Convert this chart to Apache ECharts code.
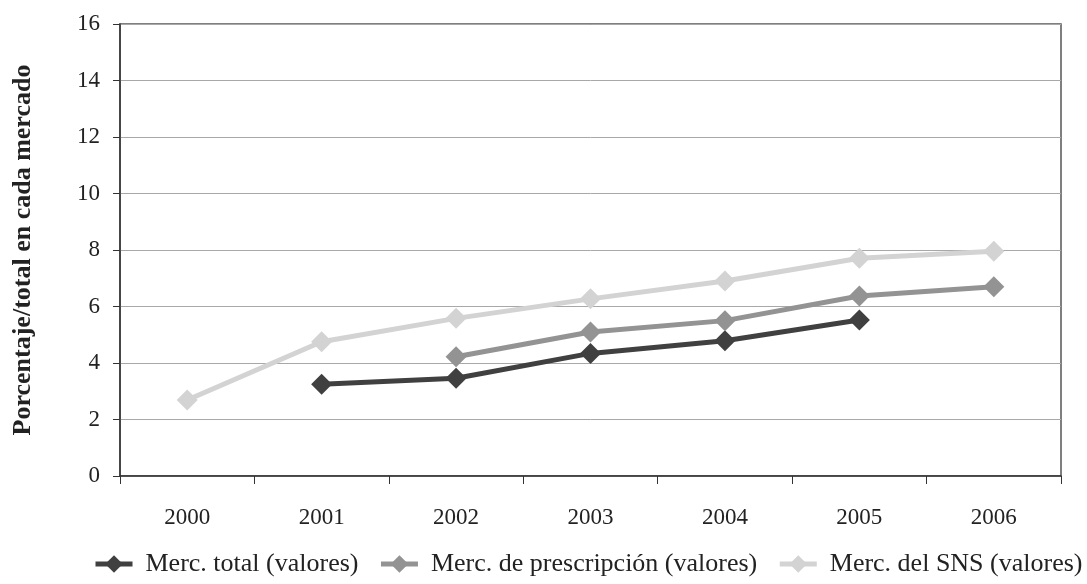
<!DOCTYPE html>
<html>
<head>
<meta charset="utf-8">
<script src="https://cdn.jsdelivr.net/npm/echarts@6/dist/echarts.min.js"></script>
<style>
  html, body { margin: 0; padding: 0; background: #fff; }
  #chart { width: 1087px; height: 584px; }
</style>
</head>
<body>
<div id="chart"></div>
<script>
// Years on the category axis
const years = ['2000', '2001', '2002', '2003', '2004', '2005', '2006'];

// Share of each market (%), null where there is no value
const mercTotal = [null, 3.25, 3.46, 4.34, 4.79, 5.52, null];
const mercPrescripcion = [null, null, 4.22, 5.1, 5.5, 6.37, 6.7];
const mercSNS = [2.69, 4.75, 5.58, 6.27, 6.9, 7.71, 7.96];

const seriesNames = [
  'Merc. total (valores)',
  'Merc. de prescripción (valores)',
  'Merc. del SNS (valores)'
];
const seriesColors = ['#404040', '#939393', '#d3d3d3'];

const font = 'Liberation Serif';

function lineSeries(name, data, color) {
  return {
    name: name,
    type: 'line',
    data: data,
    symbol: 'diamond',
    symbolSize: 21,
    connectNulls: false,
    lineStyle: { color: color, width: 5 },
    itemStyle: { color: color },
    emphasis: { disabled: true }
  };
}

const chart = echarts.init(document.getElementById('chart'), null, { renderer: 'canvas' });
chart.setOption({
  animation: false,
  backgroundColor: '#fff',
  grid: {
    left: 120, right: 26, top: 24, bottom: 108,
    show: true, borderColor: '#555', borderWidth: 1.5
  },
  legend: {
    bottom: 2,
    left: 88,
    width: 999,
    itemWidth: 37,
    itemHeight: 22,
    itemGap: 20,
    lineStyle: { width: 5 },
    textStyle: { fontFamily: font, fontSize: 26, color: '#222', padding: [0, 0, 0, 8] },
    data: seriesNames
  },
  xAxis: {
    type: 'category',
    data: years,
    boundaryGap: true,
    axisLine: { lineStyle: { color: '#333', width: 1.5 } },
    axisTick: { show: true, length: 8, lineStyle: { color: '#333' } },
    axisLabel: { fontFamily: font, fontSize: 23, color: '#222', margin: 30 },
    splitLine: { show: false }
  },
  yAxis: {
    type: 'value',
    min: 0, max: 16, interval: 2,
    name: 'Porcentaje/total en cada mercado',
    nameLocation: 'middle',
    nameGap: 84,
    nameTextStyle: { fontFamily: font, fontSize: 26, fontWeight: 'bold', color: '#222' },
    axisLine: { show: true, lineStyle: { color: '#333', width: 1.5 } },
    axisTick: { show: true, length: 7, lineStyle: { color: '#333' } },
    axisLabel: { fontFamily: font, fontSize: 23, color: '#222', margin: 20 },
    splitLine: { lineStyle: { color: '#a8a8a8', width: 1 } }
  },
  series: [
    lineSeries(seriesNames[0], mercTotal, seriesColors[0]),
    lineSeries(seriesNames[1], mercPrescripcion, seriesColors[1]),
    lineSeries(seriesNames[2], mercSNS, seriesColors[2])
  ]
});
</script>
</body>
</html>
